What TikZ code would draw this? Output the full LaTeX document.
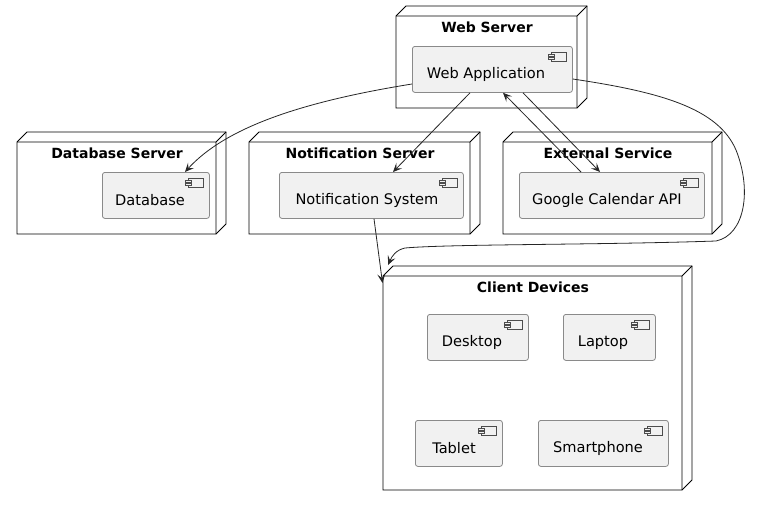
\documentclass[tikz,border=0pt]{standalone}
\usepackage{fontspec}
\setmainfont{DejaVu Sans}
\usetikzlibrary{arrows.meta}
\definecolor{compfill}{HTML}{F1F1F1}
\definecolor{compline}{HTML}{8A8A8A}
\tikzset{
  x=1pt, y=-1pt,
  nodebox/.style={draw=black, line width=0.9pt, fill=white, line join=miter},
  comp/.style={draw=compline, fill=compfill, line width=0.8pt, rounded corners=2.5pt, inner sep=0pt},
  ttl/.style={font=\bfseries\fontsize{14}{16}\selectfont, inner sep=0pt},
  lbl/.style={font=\fontsize{14.6}{16}\selectfont, inner sep=0pt},
  conn/.style={draw=black!85, line width=0.8pt, -{Stealth[length=9pt,width=8pt,inset=4pt]}},
  icon/.style={draw=black!70, line width=0.6pt, fill=compfill}
}
% deployment node: name, x1, y1, x2, y2
\newcommand{\depnode}[5]{%
  \path[nodebox] (#2,#3) -- (#2+10,#3-10) -- (#4+10,#3-10) -- (#4+10,#5-10) -- (#4,#5) -- (#2,#5) -- cycle;
  \draw[nodebox, fill=none] (#2,#3) -- (#4,#3) -- (#4+10,#3-10) (#4,#3) -- (#4,#5);
  \coordinate (#1) at ({(#2+#4)/2},{(#3+#5)/2});
}
% component: name, x1, y1, x2, y2
\newcommand{\compbox}[5]{%
  \node[comp, minimum width={#4-#2}, minimum height={#5-#3}, anchor=north west] (#1) at (#2,#3) {};
  \draw[icon] (#4-21,#3+6) rectangle (#4-6,#3+15);
  \draw[icon] (#4-24,#3+8) rectangle (#4-18,#3+9.8);
  \draw[icon] (#4-24,#3+11.2) rectangle (#4-18,#3+13);
}
\begin{document}
\begin{tikzpicture}
\useasboundingbox[fill=white] (0,0) rectangle (763,506);

% Web Server
\depnode{websrv}{396}{16}{577}{108}
\node[ttl] at (487,27) {Web Server};
\compbox{webapp}{412}{46}{572}{92}
\node[lbl] at (486,74.5) {Web Application};

% Database Server
\depnode{dbsrv}{17}{142}{216}{234}
\node[ttl] at (117,153) {Database Server};
\compbox{db}{102}{172}{209}{218}
\node[lbl] at (150,200.5) {Database};

% Notification Server
\depnode{notsrv}{249}{142}{470}{234}
\node[ttl] at (360,153) {Notification Server};
\compbox{notif}{279}{172}{463}{218}
\node[lbl] at (367,200.5) {Notification System};

% External Service
\depnode{extsrv}{503}{142}{712}{234}
\node[ttl] at (608,153) {External Service};
\compbox{gcal}{519}{172}{704}{218}
\node[lbl] at (607,200.5) {Google Calendar API};

% Client Devices
\depnode{client}{383}{276}{682}{490}
\node[ttl] at (533,287) {Client Devices};
\compbox{desktop}{427}{314}{528}{360}
\node[lbl] at (472,342.5) {Desktop};
\compbox{laptop}{563}{314}{655}{360}
\node[lbl] at (603,342.5) {Laptop};
\compbox{tablet}{415}{420}{502}{466}
\node[lbl] at (454,448.5) {Tablet};
\compbox{phone}{538}{420}{668}{466}
\node[lbl] at (598,448.5) {Smartphone};

% connector end points
\coordinate (cA) at (388,265);
\coordinate (cB) at (382.5,283);

% connectors
\draw[conn] (webapp.west |- 0,84) .. controls (300,102) and (225,128) .. (db.north -| 185,0);
\draw[conn] (webapp.south -| 470,0) -- (notif.north -| 393,0);
\draw[conn] (gcal.north -| 581,0) -- (webapp.south -| 503,0);
\draw[conn] (webapp.south -| 523,0) -- (gcal.north -| 600,0);
\draw[conn] (webapp.east |- 0,79) .. controls (660,92) and (718,108) .. (736,150)
   .. controls (752,190) and (745,235) .. (716,241)
   .. controls (600,245) and (450,244) .. (405,248)
   .. controls (396,250) and (392,256) .. (cA);
\draw[conn] (notif.south -| 374,0) -- (cB);
\end{tikzpicture}
\end{document}
